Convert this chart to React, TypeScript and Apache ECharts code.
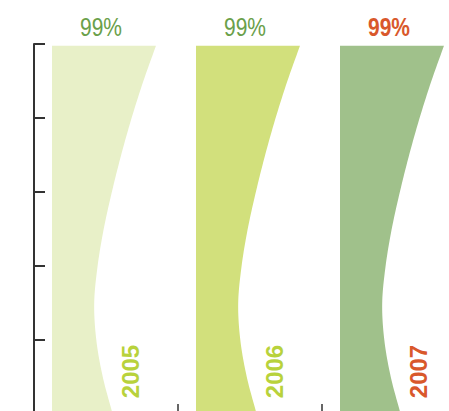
import React, { useEffect, useRef } from "react";
import * as echarts from "echarts";

const years = ["2005", "2006", "2007"];
const shares = [99, 99, 99];
const shareLabels = ["99%", "99%", "99%"];
const barColors = ["#e8f0c8", "#d2e07c", "#a0c18b"];
const shareColors = ["#6aa04a", "#6aa04a", "#d9582b"];
const shareWeights = ["normal", "normal", "bold"];
const yearColors = ["#b8d23c", "#b8d23c", "#d9582b"];

// right-edge profile of each bar: relative height (0 = bottom, 1 = top) and
// distance from the category start as a fraction of the category width
const edgeHeights = [0, 0.1, 0.2, 0.3, 0.4, 0.5, 0.6, 0.7, 0.8, 0.9, 1];
const edgeWidths = [0.546, 0.478, 0.433, 0.418, 0.441, 0.483, 0.539, 0.603, 0.675, 0.756, 0.847];
const leftEdge = 0.125;

function catmull(pts: number[][], steps: number): number[][] {
  const out: number[][] = [];
  const n = pts.length;
  for (let i = 0; i < n - 1; i++) {
    const p0 = i === 0 ? [2 * pts[0][0] - pts[1][0], 2 * pts[0][1] - pts[1][1]] : pts[i - 1];
    const p1 = pts[i];
    const p2 = pts[i + 1];
    const p3 = i + 2 >= n ? [2 * pts[n - 1][0] - pts[n - 2][0], 2 * pts[n - 1][1] - pts[n - 2][1]] : pts[i + 2];
    for (let s = 0; s < steps; s++) {
      const t = s / steps;
      const t2 = t * t;
      const t3 = t2 * t;
      const f = (a: number, b: number, c: number, d: number) =>
        0.5 * (2 * b + (-a + c) * t + (2 * a - 5 * b + 4 * c - d) * t2 + (-a + 3 * b - 3 * c + d) * t3);
      out.push([f(p0[0], p1[0], p2[0], p3[0]), f(p0[1], p1[1], p2[1], p3[1])]);
    }
  }
  out.push(pts[n - 1]);
  return out;
}

export default function App() {
  const ref = useRef<HTMLDivElement>(null);
  useEffect(() => {
    if (!ref.current) return;
    const chart = echarts.init(ref.current, null, { renderer: "svg" });
    chart.setOption({
      animation: false,
      grid: { left: 34, top: 44, right: 14, bottom: 16 },
      xAxis: {
        type: "category",
        data: years,
        boundaryGap: true,
        axisLine: { show: true, lineStyle: { color: "#333", width: 1.5 } },
        axisTick: { show: true, inside: true, length: 10, lineStyle: { color: "#333", width: 1.5 } },
        axisLabel: { show: false },
        splitLine: { show: false },
      },
      yAxis: {
        type: "value",
        min: 0,
        max: 100,
        interval: 20,
        axisLine: { show: true, lineStyle: { color: "#333", width: 2 } },
        axisTick: { show: true, inside: true, length: 11, lineStyle: { color: "#333", width: 2 } },
        axisLabel: { show: false },
        splitLine: { show: false },
      },
      series: [
        {
          type: "custom",
          encode: { x: 0, y: 1 },
          data: shares.map((v, i) => [i, v]),
          renderItem: (params: any, api: any) => {
            const idx = api.value(0);
            const val = api.value(1);
            const base = api.coord([idx, 0]);
            const top = api.coord([idx, val]);
            const band = api.size([1, 0])[0];
            const x0 = base[0] - band / 2;
            const h = base[1] - top[1] + 2;
            const topY = base[1] - h;
            const edge = edgeHeights.map((t, i) => [x0 + edgeWidths[i] * band, base[1] - t * h]);
            const smooth = catmull(edge, 12).reverse();
            const points = [[x0 + leftEdge * band, base[1]], [x0 + leftEdge * band, topY], ...smooth];
            return {
              type: "group",
              children: [
                {
                  type: "polygon",
                  shape: { points },
                  style: { fill: barColors[idx] },
                },
                {
                  type: "text",
                  x: x0 + band * 0.465,
                  y: topY - 18.5,
                  scaleX: 0.84,
                  style: {
                    text: shareLabels[idx],
                    x: 0,
                    y: 0,
                    fill: shareColors[idx],
                    fontSize: 25,
                    fontFamily: "'Liberation Sans', Arial, sans-serif",
                    fontWeight: shareWeights[idx],
                    align: "center",
                    verticalAlign: "middle",
                  },
                },
                {
                  type: "text",
                  x: x0 + band * 0.67,
                  y: base[1] - 42.5,
                  rotation: Math.PI / 2,
                  style: {
                    text: years[idx],
                    x: 0,
                    y: 0,
                    fill: yearColors[idx],
                    fontSize: 24,
                    fontFamily: "'Liberation Sans', Arial, sans-serif",
                    fontWeight: "bold",
                    align: "center",
                    verticalAlign: "middle",
                  },
                },
              ],
            };
          },
        },
      ],
    });
    return () => chart.dispose();
  }, []);
  return (
    <div style={{ position: "fixed", left: 0, top: 0, width: 449, height: 411, overflow: "hidden", background: "#fff" }}>
      <div ref={ref} style={{ width: 480, height: 430 }} />
    </div>
  );
}
